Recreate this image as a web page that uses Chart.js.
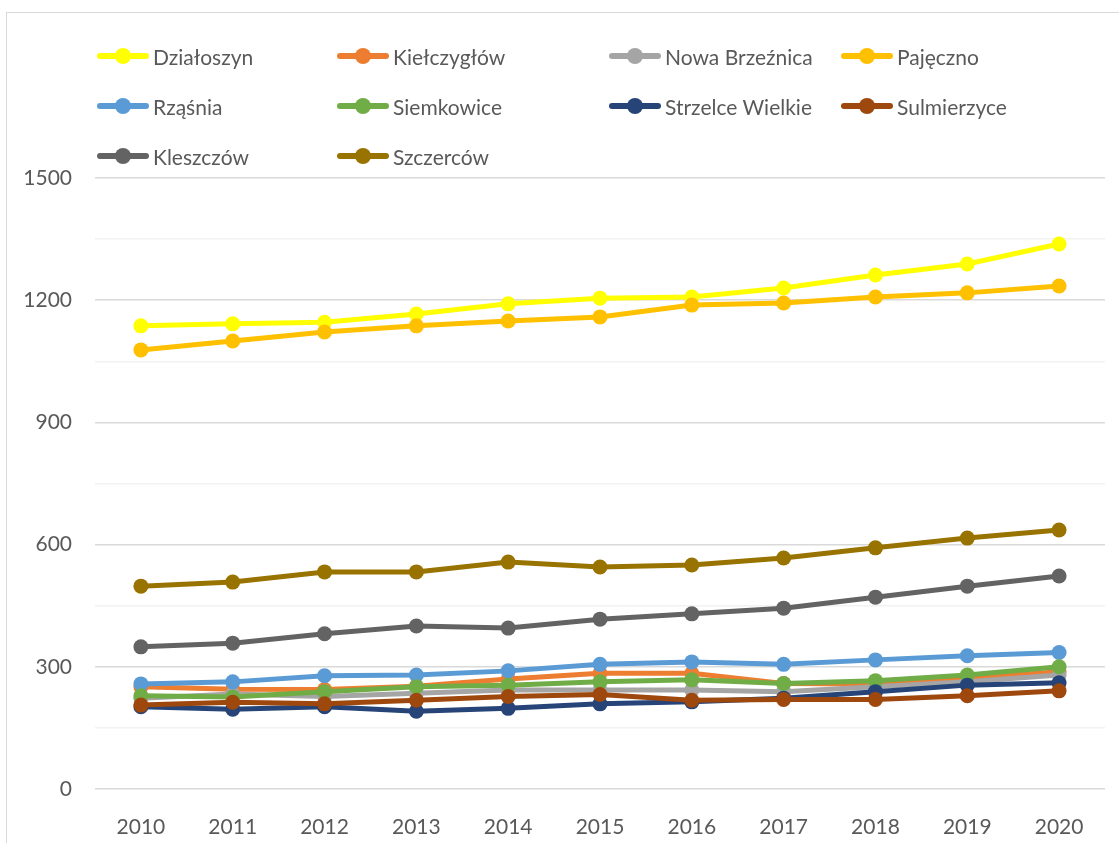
<!DOCTYPE html>
<html>
<head>
<meta charset="utf-8">
<script src="https://cdn.jsdelivr.net/npm/chart.js@4"></script>
<style>
  body { margin: 0; background: #fff; font-family: Lato, "Open Sans", sans-serif; }
  #wrap { position: relative; width: 1119px; height: 843px; overflow: hidden; }
  #frame { position: absolute; left: 6px; top: 12px; width: 1130px; height: 900px; border: 1px solid #d9d9d9; box-sizing: border-box; }
  #legend { position: absolute; left: 0; top: 0; }
  .item { position: absolute; height: 24px; display: flex; align-items: center; color: #595959; font-size: 21px; white-space: nowrap; }
  .sw { position: relative; width: 52px; height: 24px; margin-right: 4px; }
  .sw .ln { position: absolute; left: 0; right: 0; top: 9px; height: 6px; border-radius: 3px; }
  .sw .dt { position: absolute; left: 18px; top: 4px; width: 16px; height: 16px; border-radius: 50%; }
</style>
</head>
<body>
<div id="wrap">
  <div id="frame"></div>
  <canvas id="trend" width="1119" height="843"></canvas>
  <div id="legend"></div>
</div>
<script>
const years = ["2010","2011","2012","2013","2014","2015","2016","2017","2018","2019","2020"]

const dzialoszyn   = [1137, 1142, 1146, 1166, 1191, 1205, 1208, 1230, 1262, 1289, 1338]
const kielczyglow  = [ 251,  245,  244,  252,  270,  284,  284,  259,  258,  272,  288]
const nowaBrzeznica= [ 223,  233,  227,  235,  243,  243,  243,  239,  251,  263,  280]
const pajeczno     = [1078, 1100, 1122, 1137, 1149, 1159, 1188, 1193, 1208, 1218, 1235]
const rzasnia      = [ 258,  263,  278,  280,  290,  306,  312,  306,  317,  327,  335]
const siemkowice   = [ 229,  226,  239,  251,  255,  263,  268,  259,  266,  280,  300]
const strzelce     = [ 202,  196,  202,  191,  198,  209,  214,  223,  239,  255,  261]
const sulmierzyce  = [ 206,  213,  209,  218,  227,  232,  218,  220,  220,  229,  241]
const kleszczow    = [ 349,  358,  381,  400,  395,  417,  430,  444,  471,  498,  523]
const szczercow    = [ 498,  508,  533,  533,  557,  545,  550,  567,  592,  616,  636]

const seriesNames = ["Działoszyn", "Kiełczygłów", "Nowa Brzeźnica", "Pajęczno", "Rząśnia",
    "Siemkowice", "Strzelce Wielkie", "Sulmierzyce", "Kleszczów", "Szczerców"]
const seriesData = [dzialoszyn, kielczyglow, nowaBrzeznica, pajeczno, rzasnia,
    siemkowice, strzelce, sulmierzyce, kleszczow, szczercow]
const colors = ["#FFFF00", "#ED7D31", "#A5A5A5", "#FFC000", "#5B9BD5",
    "#70AD47", "#264478", "#9E480E", "#636363", "#997300"]

// legend grid: 4 columns, 3 rows
const legendCols = [97, 337, 609, 841]
const legendRows = [56, 106, 156]

const datasets = seriesNames.map((name, i) => ({
    label: name,
    data: seriesData[i],
    borderColor: colors[i],
    backgroundColor: colors[i],
    borderWidth: 5,
    pointRadius: 7.5,
    pointHoverRadius: 7.5,
    pointBorderWidth: 0,
    fill: false,
    tension: 0,
    order: seriesNames.length - i
}))

const legendEl = document.getElementById("legend")
seriesNames.forEach((name, i) => {
    const item = document.createElement("div")
    item.className = "item"
    item.style.left = legendCols[i % 4] + "px"
    item.style.top = (legendRows[Math.floor(i / 4)] - 12) + "px"
    item.innerHTML = "<div class='sw'><div class='ln' style='background:" + colors[i] +
        "'></div><div class='dt' style='background:" + colors[i] + "'></div></div><span>" + name + "</span>"
    legendEl.appendChild(item)
})

const ctx = document.getElementById("trend").getContext("2d")
new Chart(ctx, {
    type: "line",
    data: { labels: years, datasets: datasets },
    options: {
        responsive: false,
        animation: false,
        layout: { padding: { top: 178, right: 14, bottom: 0, left: 0 } },
        plugins: { legend: { display: false }, tooltip: { enabled: false } },
        scales: {
            x: {
                offset: true,
                grid: { display: false },
                border: { display: false },
                ticks: { color: "#595959", font: { family: "Lato", size: 21 }, padding: 18, maxRotation: 0 },
                afterFit: (scale) => { scale.height = 54 }
            },
            y: {
                min: 0,
                max: 1500,
                grid: {
                    drawTicks: false,
                    color: (c) => (c.tick && c.tick.value % 300 === 0) ? "#d9d9d9" : "#f2f2f2",
                    lineWidth: 1.5
                },
                border: { display: false },
                ticks: {
                    stepSize: 150,
                    padding: 23,
                    color: "#595959",
                    font: { family: "Lato", size: 21 },
                    callback: (v) => v % 300 === 0 ? v : ""
                },
                afterFit: (scale) => { scale.width = 95 }
            }
        }
    }
})
</script>
</body>
</html>
